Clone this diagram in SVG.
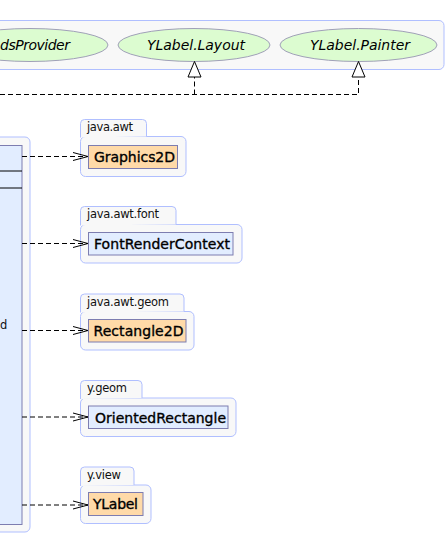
<svg xmlns="http://www.w3.org/2000/svg" width="447" height="535" viewBox="0 0 447 535">
<defs>
<style>
.pkg{fill:#f8f8f8;stroke:#b0bfff;stroke-width:1}
.cls{fill:#e2edff;stroke:#7d7db0;stroke-width:1}
.clso{fill:#ffdaa8;stroke:#7d7db0;stroke-width:1}
.ell{fill:#dcfcd0;stroke:#a0a0b8;stroke-width:1}
.pl{font-family:"DejaVu Sans",sans-serif;font-size:11.5px;fill:#111}
.cn{font-family:"DejaVu Sans",sans-serif;font-size:14px;fill:#000;stroke:#000;stroke-width:0.35}
.en{font-family:"DejaVu Sans",sans-serif;font-size:14px;font-style:italic;fill:#000}
.dash{fill:none;stroke:#000;stroke-width:1;stroke-dasharray:5,3}
</style>
<marker id="open" markerWidth="16" markerHeight="10" refX="15" refY="5" orient="auto" markerUnits="userSpaceOnUse">
<path d="M0,1 L15,5 L0,9" fill="none" stroke="#000" stroke-width="1"/>
</marker>
</defs>

<g id="pkg-top">
<rect class="pkg" x="-20" y="20.5" width="464" height="49" rx="5"/>
<g id="BoundsProvider"><ellipse class="ell" cx="30" cy="45" rx="78" ry="16.5"/><text class="en" x="70" y="50" text-anchor="end" textLength="70">dsProvider</text></g>
<g id="YLabelLayout"><ellipse class="ell" cx="194" cy="45" rx="76" ry="16.5"/><text class="en" x="196" y="50" text-anchor="middle" textLength="98">YLabel.Layout</text></g>
<g id="YLabelPainter"><ellipse class="ell" cx="358.5" cy="45" rx="78.5" ry="16.5"/><text class="en" x="360" y="50" text-anchor="middle" textLength="100">YLabel.Painter</text></g>
</g>

<g id="pkg-left">
<rect class="pkg" x="-20" y="137" width="50" height="395" rx="5"/>
<g id="YLabelClass">
<rect class="cls" x="-10" y="145.5" width="32" height="379"/>
<line x1="-10" y1="171" x2="22" y2="171" stroke="#000"/>
<line x1="-10" y1="188" x2="22" y2="188" stroke="#000"/>
<text class="pl" x="0" y="329">d</text>
</g>
</g>

<g id="pkg-java-awt">
<rect class="pkg" x="80.5" y="136.5" width="105.5" height="40" rx="5"/>
<path class="pkg" d="M80.5,137.5 V123.5 Q80.5,119.5 84.5,119.5 H142.5 Q146.5,119.5 146.5,123.5 V136.5"/>
<text class="pl" x="87" y="131" textLength="46">java.awt</text>
<g id="Graphics2D"><rect class="clso" x="88.5" y="145.5" width="89" height="23"/><text class="cn" x="94" y="162" textLength="81">Graphics2D</text></g>
</g>

<g id="pkg-java-awt-font">
<rect class="pkg" x="80.5" y="224.5" width="161.5" height="38.5" rx="5"/>
<path class="pkg" d="M80.5,225.5 V210.5 Q80.5,206.5 84.5,206.5 H172 Q176,206.5 176,210.5 V224.5"/>
<text class="pl" x="87" y="218" textLength="72">java.awt.font</text>
<g id="FontRenderContext"><rect class="cls" x="88.5" y="232.5" width="144.5" height="22.5"/><text class="cn" x="94" y="249" textLength="136">FontRenderContext</text></g>
</g>

<g id="pkg-java-awt-geom">
<rect class="pkg" x="80.5" y="311.5" width="113.5" height="38.5" rx="5"/>
<path class="pkg" d="M80.5,312.5 V298 Q80.5,294 84.5,294 H180 Q184,294 184,298 V311.5"/>
<text class="pl" x="87" y="305.5" textLength="82">java.awt.geom</text>
<g id="Rectangle2D"><rect class="clso" x="88.5" y="319.5" width="97.5" height="22.5"/><text class="cn" x="93.5" y="336" textLength="90">Rectangle2D</text></g>
</g>

<g id="pkg-y-geom">
<rect class="pkg" x="80.5" y="398" width="155.5" height="38.5" rx="5"/>
<path class="pkg" d="M80.5,399 V384.5 Q80.5,380.5 84.5,380.5 H138 Q142,380.5 142,384.5 V398"/>
<text class="pl" x="87" y="392" textLength="40">y.geom</text>
<g id="OrientedRectangle"><rect class="cls" x="88.5" y="406" width="139.5" height="22.5"/><text class="cn" x="95" y="422.5" textLength="131">OrientedRectangle</text></g>
</g>

<g id="pkg-y-view">
<rect class="pkg" x="80.5" y="485" width="70.5" height="38.5" rx="5"/>
<path class="pkg" d="M80.5,486 V471 Q80.5,467 84.5,467 H130 Q134,467 134,471 V485"/>
<text class="pl" x="87" y="479" textLength="34">y.view</text>
<g id="YLabel"><rect class="clso" x="88.5" y="492.5" width="54.5" height="23"/><text class="cn" x="93" y="509" textLength="45">YLabel</text></g>
</g>

<g id="connectors">
<path class="dash" d="M0,94.5 H358.5 V77"/>
<path class="dash" d="M194.5,94.5 V77"/>
<path d="M194.5,61.5 L201,77 L188,77 Z" fill="#fff" stroke="#000"/>
<path d="M358.5,61.5 L365,77 L352,77 Z" fill="#fff" stroke="#000"/>
<line class="dash" x1="22" y1="156.5" x2="88" y2="156.5" marker-end="url(#open)"/>
<line class="dash" x1="22" y1="243.5" x2="88" y2="243.5" marker-end="url(#open)"/>
<line class="dash" x1="22" y1="330.5" x2="88" y2="330.5" marker-end="url(#open)"/>
<line class="dash" x1="22" y1="417" x2="88" y2="417" marker-end="url(#open)"/>
<line class="dash" x1="22" y1="505" x2="88" y2="505" marker-end="url(#open)"/>
</g>
</svg>
